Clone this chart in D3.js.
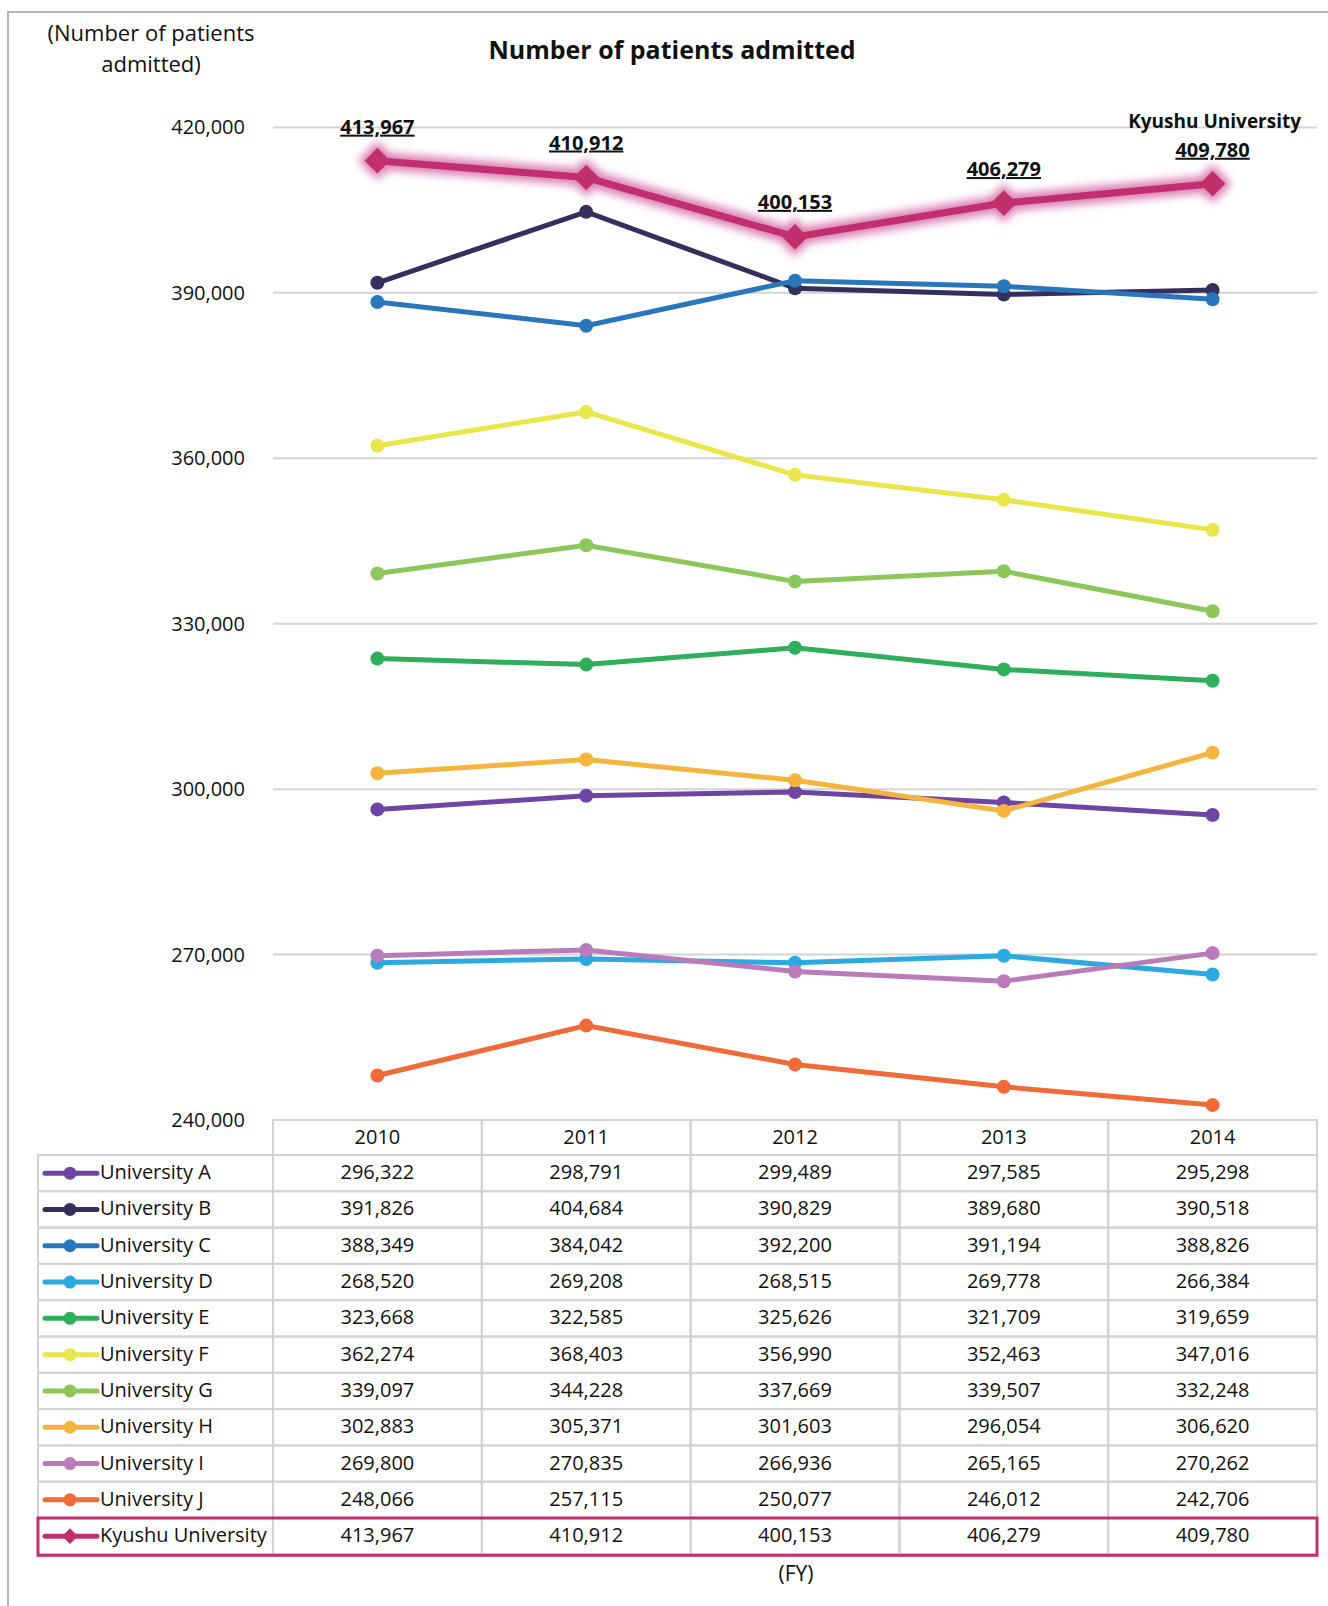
<!DOCTYPE html>
<html>
<head>
<meta charset="utf-8">
<title>Number of patients admitted</title>
<script src="https://d3js.org/d3.v7.min.js"></script>
<style>
  body { margin: 0; background: #fff; }
  text { font-family: "Open Sans", "Noto Sans", sans-serif; fill: #111; }
</style>
</head>
<body>
<script>
// 年度とシリーズ
const years = ["2010", "2011", "2012", "2013", "2014"];
const names = ["University A", "University B", "University C", "University D", "University E",
  "University F", "University G", "University H", "University I", "University J", "Kyushu University"];
const colors = ["#6E45A3", "#33305E", "#2A76BC", "#2BA9E1", "#2FAE5B",
  "#E9E64B", "#8DC75B", "#F5B43E", "#B97BB9", "#F06A3A", "#C1306C"];
const uniA = [296322, 298791, 299489, 297585, 295298];
const uniB = [391826, 404684, 390829, 389680, 390518];
const uniC = [388349, 384042, 392200, 391194, 388826];
const uniD = [268520, 269208, 268515, 269778, 266384];
const uniE = [323668, 322585, 325626, 321709, 319659];
const uniF = [362274, 368403, 356990, 352463, 347016];
const uniG = [339097, 344228, 337669, 339507, 332248];
const uniH = [302883, 305371, 301603, 296054, 306620];
const uniI = [269800, 270835, 266936, 265165, 270262];
const uniJ = [248066, 257115, 250077, 246012, 242706];
const kyushu = [413967, 410912, 400153, 406279, 409780];
const yTicks = [240000, 270000, 300000, 330000, 360000, 390000, 420000];

const values = [uniA, uniB, uniC, uniD, uniE, uniF, uniG, uniH, uniI, uniJ, kyushu];
const series = names.map((n, i) => ({ name: n, color: colors[i], values: values[i], main: i === names.length - 1 }));

const width = 1328, height = 1606;
const plotLeft = 273, plotRight = 1317, plotTop = 127.4, plotBottom = 1120;
const fmt = d3.format(",");

const svg = d3.select("body").append("svg")
  .attr("width", width)
  .attr("height", height);

// 光彩用フィルタ
const defs = svg.append("defs");
defs.append("filter").attr("id", "glow")
  .attr("x", "-20%").attr("y", "-50%").attr("width", "140%").attr("height", "200%")
  .append("feGaussianBlur").attr("stdDeviation", 4);

// 外枠（上と左）
svg.append("path")
  .attr("d", `M8,${height} L8,12 L${width},12`)
  .attr("fill", "none")
  .attr("stroke", "#B4B4B8")
  .attr("stroke-width", 2);

const x = d3.scaleBand().domain(years).range([plotLeft, plotRight]);
const y = d3.scaleLinear().domain([240000, 420000]).range([plotBottom, plotTop]);
const cx = d => x(d) + x.bandwidth() / 2;

// グリッド線
svg.append("g").selectAll("line")
  .data(yTicks.slice(1))
  .join("line")
  .attr("x1", plotLeft).attr("x2", plotRight)
  .attr("y1", d => y(d)).attr("y2", d => y(d))
  .attr("stroke", "#D4D4D4")
  .attr("stroke-width", 2);

// y軸ラベル
svg.append("g").selectAll("text")
  .data(yTicks)
  .join("text")
  .attr("x", 245)
  .attr("y", d => y(d))
  .attr("dy", "0.35em")
  .attr("text-anchor", "end")
  .attr("font-size", 20)
  .text(d => fmt(d));

// タイトル
svg.append("text")
  .attr("x", 672).attr("y", 50)
  .attr("dy", "0.35em")
  .attr("text-anchor", "middle")
  .attr("font-size", 25)
  .attr("font-weight", "bold")
  .text("Number of patients admitted");

svg.append("text")
  .attr("x", 151).attr("y", 33)
  .attr("dy", "0.35em")
  .attr("text-anchor", "middle")
  .attr("font-size", 22)
  .text("(Number of patients");
svg.append("text")
  .attr("x", 151).attr("y", 64)
  .attr("dy", "0.35em")
  .attr("text-anchor", "middle")
  .attr("font-size", 22)
  .text("admitted)");

const line = d3.line()
  .x((d, i) => cx(years[i]))
  .y(d => y(d));

const diamond = d3.symbol().type(d3.symbolDiamond2);

// 折れ線
series.forEach(s => {
  const g = svg.append("g");
  if (s.main) {
    const glow = g.append("g").attr("filter", "url(#glow)").attr("opacity", 0.8);
    glow.append("path")
      .attr("d", line(s.values))
      .attr("fill", "none")
      .attr("stroke", "#D160A0")
      .attr("stroke-width", 17)
      .attr("stroke-linejoin", "round");
    glow.selectAll("path.m")
      .data(s.values)
      .join("path")
      .attr("class", "m")
      .attr("transform", (d, i) => `translate(${cx(years[i])},${y(d)})`)
      .attr("d", diamond.size(950))
      .attr("fill", "#D160A0");
    g.append("path")
      .attr("d", line(s.values))
      .attr("fill", "none")
      .attr("stroke", s.color)
      .attr("stroke-width", 7);
    g.selectAll("path.mk")
      .data(s.values)
      .join("path")
      .attr("class", "mk")
      .attr("transform", (d, i) => `translate(${cx(years[i])},${y(d)})`)
      .attr("d", diamond.size(420))
      .attr("fill", s.color);
  } else {
    g.append("path")
      .attr("d", line(s.values))
      .attr("fill", "none")
      .attr("stroke", s.color)
      .attr("stroke-width", 5);
    g.selectAll("circle")
      .data(s.values)
      .join("circle")
      .attr("cx", (d, i) => cx(years[i]))
      .attr("cy", d => y(d))
      .attr("r", 7)
      .attr("fill", s.color);
  }
});

// 九州大学のデータラベル
const labelOffset = [34, 35, 35, 34, 34];
svg.append("g").selectAll("text")
  .data(kyushu)
  .join("text")
  .attr("x", (d, i) => cx(years[i]))
  .attr("y", (d, i) => y(d) - labelOffset[i])
  .attr("dy", "0.35em")
  .attr("text-anchor", "middle")
  .attr("font-size", 20)
  .attr("font-weight", "bold")
  .attr("text-decoration", "underline")
  .text(d => fmt(d));
svg.append("text")
  .attr("x", cx(years[4]) + 2)
  .attr("y", y(kyushu[4]) - 62)
  .attr("dy", "0.35em")
  .attr("text-anchor", "middle")
  .attr("font-size", 19)
  .attr("font-weight", "bold")
  .text("Kyushu University");

// データテーブル
const tLeft = 38, headTop = plotBottom, headH = 35, rowH = 36.3;
const rowY = i => headTop + headH + i * rowH;
const tb = svg.append("g");
const gridStroke = "#D2D2D2";

// 見出し行
tb.selectAll("rect.h")
  .data(years)
  .join("rect")
  .attr("class", "h")
  .attr("x", d => x(d)).attr("y", headTop)
  .attr("width", x.bandwidth()).attr("height", headH)
  .attr("fill", "none").attr("stroke", gridStroke).attr("stroke-width", 2);
tb.selectAll("text.h")
  .data(years)
  .join("text")
  .attr("class", "h")
  .attr("x", d => cx(d)).attr("y", headTop + headH / 2 - 1)
  .attr("dy", "0.35em")
  .attr("text-anchor", "middle")
  .attr("font-size", 20)
  .text(d => d);

series.forEach((s, r) => {
  const ry = rowY(r);
  tb.append("rect")
    .attr("x", tLeft).attr("y", ry)
    .attr("width", plotLeft - tLeft).attr("height", rowH)
    .attr("fill", "none").attr("stroke", gridStroke).attr("stroke-width", 2);
  tb.append("g").selectAll("rect")
    .data(years)
    .join("rect")
    .attr("x", d => x(d)).attr("y", ry)
    .attr("width", x.bandwidth()).attr("height", rowH)
    .attr("fill", "none").attr("stroke", gridStroke).attr("stroke-width", 2);
  // 凡例キー
  const my = ry + rowH / 2;
  tb.append("line")
    .attr("x1", 45).attr("x2", 97)
    .attr("y1", my).attr("y2", my)
    .attr("stroke", s.color).attr("stroke-width", 5)
    .attr("stroke-linecap", "round");
  if (s.main) {
    tb.append("path")
      .attr("transform", `translate(70,${my})`)
      .attr("d", diamond.size(160))
      .attr("fill", s.color);
  } else {
    tb.append("circle")
      .attr("cx", 70).attr("cy", my).attr("r", 6.5)
      .attr("fill", s.color);
  }
  tb.append("text")
    .attr("x", 100).attr("y", my - 1)
    .attr("dy", "0.35em")
    .attr("font-size", 20)
    .text(s.name);
  tb.append("g").selectAll("text")
    .data(s.values)
    .join("text")
    .attr("x", (d, i) => cx(years[i]))
    .attr("y", my - 1)
    .attr("dy", "0.35em")
    .attr("text-anchor", "middle")
    .attr("font-size", 20)
    .text(d => fmt(d));
  if (s.main) {
    tb.append("rect")
      .attr("x", tLeft).attr("y", ry)
      .attr("width", plotRight - tLeft).attr("height", rowH + 1)
      .attr("fill", "none")
      .attr("stroke", s.color)
      .attr("stroke-width", 3);
  }
});

svg.append("text")
  .attr("x", 796).attr("y", 1574)
  .attr("dy", "0.35em")
  .attr("text-anchor", "middle")
  .attr("font-size", 21)
  .text("(FY)");
</script>
</body>
</html>
